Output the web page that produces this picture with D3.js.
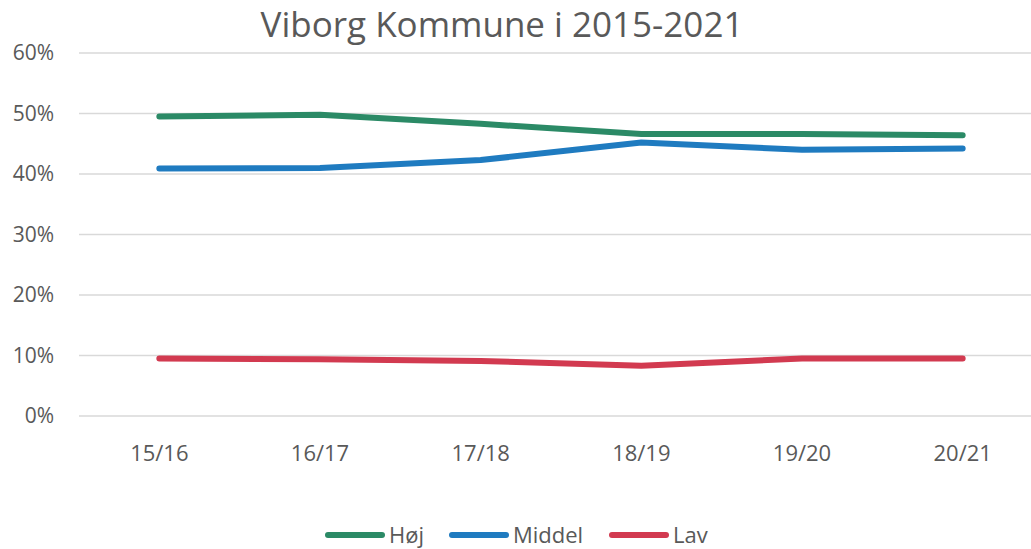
<!DOCTYPE html>
<html>
<head>
<meta charset="utf-8">
<script src="https://cdn.jsdelivr.net/npm/d3@7"></script>
<style>
  body { margin: 0; background: #fff; }
  text { font-family: "Open Sans", sans-serif; fill: #595959; }
</style>
</head>
<body>
<svg width="1031" height="549"></svg>
<script>
var svg = d3.select("svg");
var width = +svg.attr("width");
var height = +svg.attr("height");

var title = "Viborg Kommune i 2015-2021";
var categories = ["15/16", "16/17", "17/18", "18/19", "19/20", "20/21"];
var seriesNames = ["Høj", "Middel", "Lav"];
var hoj = [49.5, 49.8, 48.3, 46.6, 46.6, 46.4];
var middel = [40.9, 41.0, 42.3, 45.2, 44.0, 44.2];
var lav = [9.5, 9.4, 9.1, 8.3, 9.5, 9.5];
var yTicks = [0, 10, 20, 30, 40, 50, 60];
var colors = ["#2b8a66", "#1f7bc0", "#d23a50"];

var series = [hoj, middel, lav];

var x = d3.scalePoint().domain(categories).range([79, 1043]).padding(0.5);
var y = d3.scaleLinear().domain([0, 60]).range([416, 53]);

// title
svg.append("text")
   .attr("x", 502)
   .attr("y", 37)
   .attr("text-anchor", "middle")
   .style("font-size", "35px")
   .text(title);

// gridlines
svg.append("g")
   .selectAll("line")
   .data(yTicks)
   .enter()
   .append("line")
   .attr("x1", 79)
   .attr("x2", width)
   .attr("y1", function(d) { return y(d); })
   .attr("y2", function(d) { return y(d); })
   .attr("stroke", "#d9d9d9")
   .attr("stroke-width", 1.5);

// y labels
svg.append("g")
   .selectAll("text")
   .data(yTicks)
   .enter()
   .append("text")
   .attr("x", 54)
   .attr("y", function(d) { return y(d); })
   .attr("dy", "0.35em")
   .attr("text-anchor", "end")
   .style("font-size", "21px")
   .text(function(d) { return d + "%"; });

// x labels
svg.append("g")
   .selectAll("text")
   .data(categories)
   .enter()
   .append("text")
   .attr("x", function(d) { return x(d); })
   .attr("y", 461)
   .attr("text-anchor", "middle")
   .style("font-size", "22px")
   .text(function(d) { return d; });

// lines
var line = d3.line()
   .x(function(d, i) { return x(categories[i]); })
   .y(function(d) { return y(d); });

svg.append("g")
   .selectAll("path")
   .data(series)
   .enter()
   .append("path")
   .attr("d", line)
   .attr("fill", "none")
   .attr("stroke", function(d, i) { return colors[i]; })
   .attr("stroke-width", 6)
   .attr("stroke-linecap", "round")
   .attr("stroke-linejoin", "round");

// legend
var legendX = [328, 452, 612];
var legend = svg.append("g")
   .selectAll("g")
   .data(seriesNames)
   .enter()
   .append("g")
   .attr("transform", function(d, i) { return "translate(" + legendX[i] + ",535)"; });

legend.append("line")
   .attr("x1", 0)
   .attr("x2", 54)
   .attr("stroke", function(d, i) { return colors[i]; })
   .attr("stroke-width", 6)
   .attr("stroke-linecap", "round");

legend.append("text")
   .attr("x", 61)
   .attr("dy", "0.35em")
   .style("font-size", "22px")
   .text(function(d) { return d; });
</script>
</body>
</html>
